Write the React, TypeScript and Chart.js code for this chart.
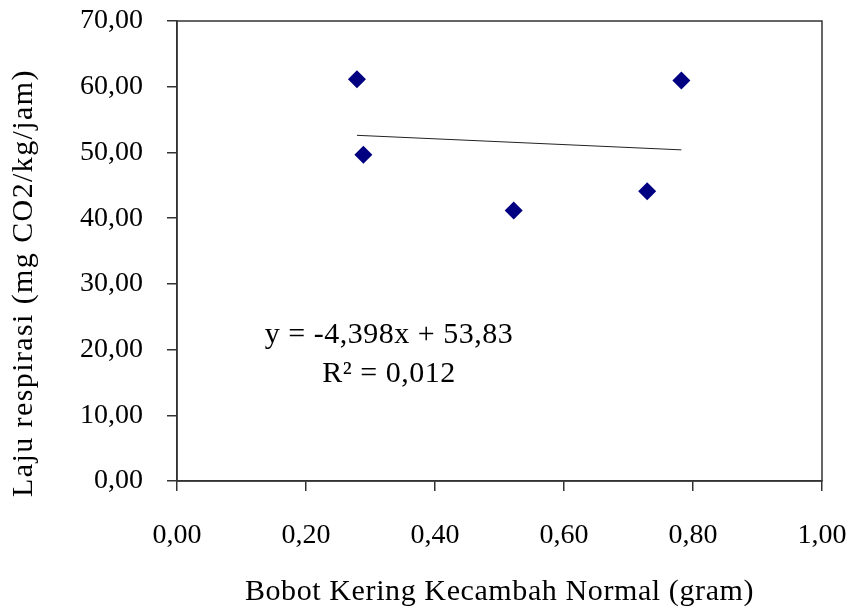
import React, { useEffect, useRef } from "react";
import { Chart, registerables } from "chart.js";

Chart.register(...registerables);

const xValues = [0.279, 0.289, 0.522, 0.729, 0.782];
const yValues = [61.15, 49.65, 41.15, 44.08, 60.93];
const trendX = [0.279, 0.782];
const slope = -4.398;
const intercept = 53.83;
const equationText = "y = -4,398x + 53,83";
const r2Text = "R² = 0,012";
const xTitle = "Bobot Kering Kecambah Normal (gram)";
const yTitle = "Laju respirasi (mg CO2/kg/jam)";

const fmt = (v: number) => v.toFixed(2).replace(".", ",");

const FONT = "'Liberation Serif', 'Times New Roman', serif";

function fixScale(s: any, size: { width?: number; height?: number }, spacing: string, shift: number) {
  if (size.width !== undefined) s.width = size.width;
  if (size.height !== undefined) s.height = size.height;
  s.paddingLeft = 0;
  s.paddingRight = 0;
  s.paddingTop = 0;
  s.paddingBottom = 0;
  if (!s.__wrapped) {
    s.__wrapped = true;
    const orig = Object.getPrototypeOf(s).drawTitle;
    s.drawTitle = function () {
      const ctx = this.ctx;
      ctx.save();
      (ctx as any).letterSpacing = spacing;
      ctx.translate(0, shift);
      orig.call(this);
      ctx.restore();
    };
  }
}

export default function App() {
  const ref = useRef<HTMLCanvasElement | null>(null);
  useEffect(() => {
    if (!ref.current) return;
    const frame = {
      id: "frame",
      afterDraw(chart: any) {
        const { ctx, chartArea } = chart;
        ctx.save();
        ctx.strokeStyle = "#333";
        ctx.lineWidth = 1.5;
        ctx.strokeRect(chartArea.left, chartArea.top, chartArea.right - chartArea.left, chartArea.bottom - chartArea.top);
        ctx.fillStyle = "#000";
        ctx.font = `30px ${FONT}`;
        (ctx as any).letterSpacing = "0.5px";
        ctx.textAlign = "center";
        ctx.textBaseline = "middle";
        ctx.fillText(equationText, 389, 335);
        ctx.fillText(r2Text, 389, 374);
        ctx.restore();
      },
    };
    const chart = new Chart(ref.current, {
      type: "scatter",
      data: {
        datasets: [
          {
            label: "data",
            data: xValues.map((x, i) => ({ x, y: yValues[i] })),
            pointStyle: "rectRot",
            pointRadius: 9,
            backgroundColor: "#000080",
            borderColor: "#000080",
            borderWidth: 0,
          },
          {
            label: "trend",
            type: "line",
            data: trendX.map((x) => ({ x, y: slope * x + intercept })),
            borderColor: "#222",
            borderWidth: 1,
            pointRadius: 0,
          } as any,
        ],
      },
      options: {
        animation: false,
        responsive: true,
        maintainAspectRatio: false,
        layout: { padding: { top: 21, right: 31, left: 0, bottom: 0 } },
        plugins: { legend: { display: false }, tooltip: { enabled: false } },
        scales: {
          x: {
            type: "linear",
            min: 0,
            max: 1,
            afterFit: (s: any) => fixScale(s, { height: 131 }, "0.6px", 0),
            ticks: {
              stepSize: 0.2,
              callback: (v: any) => fmt(Number(v)),
              color: "#000",
              font: { family: FONT, size: 28 },
              padding: 28,
              maxRotation: 0,
            },
            grid: { drawOnChartArea: false, drawTicks: true, tickLength: 10, color: "#333", lineWidth: 1.5 },
            border: { display: true, color: "#333", width: 1.5 },
            title: {
              display: true,
              text: xTitle,
              color: "#000",
              font: { family: FONT, size: 30 },
              padding: { top: 0, bottom: 2 },
            },
          },
          y: {
            type: "linear",
            min: 0,
            max: 70,
            afterFit: (s: any) => fixScale(s, { width: 177 }, "1.4px", 32),
            ticks: {
              stepSize: 10,
              callback: (v: any) => fmt(Number(v)),
              color: "#000",
              font: { family: FONT, size: 28 },
              padding: 24,
            },
            grid: { drawOnChartArea: false, drawTicks: true, tickLength: 10, color: "#333", lineWidth: 1.5 },
            border: { display: true, color: "#333", width: 1.5 },
            title: {
              display: true,
              text: yTitle,
              color: "#000",
              font: { family: FONT, size: 30 },
              padding: { top: 6, bottom: 0 },
            },
          },
        },
      },
      plugins: [frame],
    });
    return () => chart.destroy();
  }, []);
  return (
    <div style={{ position: "fixed", left: 0, top: 0, width: 853, height: 612, background: "#fff" }}>
      <canvas ref={ref} />
    </div>
  );
}
